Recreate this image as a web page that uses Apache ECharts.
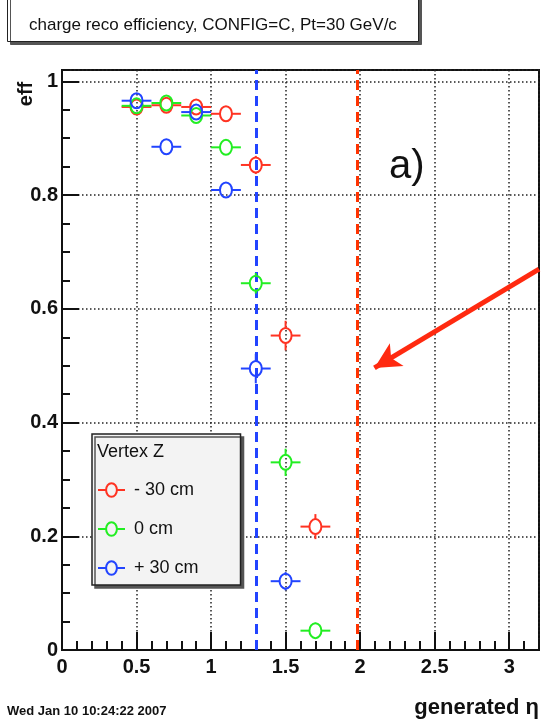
<!DOCTYPE html>
<html>
<head>
<meta charset="utf-8">
<script src="https://cdn.jsdelivr.net/npm/echarts@6/dist/echarts.min.js"></script>
<style>
  html, body { margin: 0; padding: 0; background: #fff; }
  #chart { width: 542px; height: 723px; }
</style>
</head>
<body>
<div id="chart"></div>
<script>
// data
var etaRed = [0.5, 0.7, 0.9, 1.1, 1.3, 1.5, 1.7];
var effRed = [0.955, 0.958, 0.955, 0.943, 0.853, 0.553, 0.217];
var errRed = [0.005, 0.005, 0.006, 0.007, 0.016, 0.026, 0.022];

var etaGreen = [0.5, 0.7, 0.9, 1.1, 1.3, 1.5, 1.7];
var effGreen = [0.957, 0.962, 0.940, 0.884, 0.645, 0.330, 0.034];
var errGreen = [0.005, 0.005, 0.007, 0.010, 0.018, 0.024, 0.014];

var etaBlue = [0.5, 0.7, 0.9, 1.1, 1.3, 1.5];
var effBlue = [0.966, 0.885, 0.946, 0.809, 0.495, 0.121];
var errBlue = [0.005, 0.010, 0.007, 0.014, 0.026, 0.016];

var binHalf = 0.1;           // horizontal error = half bin width
var cutBlue = 1.3;           // dashed vertical lines
var cutRed = 1.98;
var arrowFrom = [3.2, 0.67];
var arrowTo = [2.096, 0.496];

var names = ['- 30 cm', '0 cm', '+ 30 cm'];
var colRed = '#ff3322', colGreen = '#22ee22', colBlue = '#2244ff';

var font = "'Liberation Sans', Arial, Helvetica, sans-serif";

// legend marker: line with open circle
var markerIcon = 'path://M0,8 L9,8 M21,8 L30,8 M9,8 A6,7.5 0 1,1 21,8 A6,7.5 0 1,1 9,8 Z';

function pack(eta, eff, err) {
    var out = [];
    for (var i = 0; i < eta.length; i++) out.push([eta[i], eff[i], err[i]]);
    return out;
}

// point with x/y error bars and open circle marker
function renderErr(params, api) {
    var x = api.value(0), y = api.value(1), e = api.value(2);
    var c = api.coord([x, y]);
    var l = api.coord([x - binHalf, y]);
    var r = api.coord([x + binHalf, y]);
    var t = api.coord([x, y + e]);
    var b = api.coord([x, y - e]);
    var rx = 6, ry = 7.5;
    var st = { stroke: api.visual('color'), lineWidth: 2, fill: null };
    var kids = [
        { type: 'line', shape: { x1: l[0], y1: c[1], x2: c[0] - rx, y2: c[1] }, style: st },
        { type: 'line', shape: { x1: c[0] + rx, y1: c[1], x2: r[0], y2: c[1] }, style: st },
        { type: 'ellipse', shape: { cx: c[0], cy: c[1], rx: rx, ry: ry }, style: st }
    ];
    if (c[1] - t[1] > ry) {
        kids.push({ type: 'line', shape: { x1: c[0], y1: t[1], x2: c[0], y2: c[1] - ry }, style: st });
        kids.push({ type: 'line', shape: { x1: c[0], y1: c[1] + ry, x2: c[0], y2: b[1] }, style: st });
    }
    return { type: 'group', children: kids };
}

function errSeries(name, color, eta, eff, err) {
    return {
        name: name,
        type: 'custom',
        xAxisIndex: 0,
        yAxisIndex: 0,
        itemStyle: { color: color },
        renderItem: renderErr,
        data: pack(eta, eff, err),
        z: 5
    };
}

function legendItem(name, color) {
    return {
        name: name,
        icon: markerIcon,
        itemStyle: { color: 'rgba(0,0,0,0)', borderColor: color, borderWidth: 2 }
    };
}

var chart = echarts.init(document.getElementById('chart'));

var option = {
    animation: false,
    backgroundColor: '#fff',
    title: {
        text: 'charge reco efficiency, CONFIG=C, Pt=30 GeV/c',
        left: 7,
        top: -20,
        padding: [33, 22, 5, 22],
        backgroundColor: '#fff',
        borderColor: '#222',
        borderWidth: 1,
        shadowColor: '#555',
        shadowBlur: 0,
        shadowOffsetX: 3,
        shadowOffsetY: 3,
        textStyle: { fontFamily: font, fontSize: 17, fontWeight: 'normal', color: '#111', lineHeight: 24 }
    },
    legend: {
        data: [legendItem(names[0], colRed), legendItem(names[1], colGreen), legendItem(names[2], colBlue)],
        orient: 'vertical',
        left: 92,
        top: 434,
        padding: [47, 42, 8, 5],
        itemGap: 21,
        itemWidth: 27,
        itemHeight: 16,
        backgroundColor: '#f3f3f3',
        borderColor: '#222',
        borderWidth: 1.5,
        shadowColor: '#555',
        shadowBlur: 0,
        shadowOffsetX: 3,
        shadowOffsetY: 3,
        selectedMode: false,
        textStyle: { fontFamily: font, fontSize: 18, color: '#111', padding: [0, 0, 0, 4] }
    },
    grid: {
        left: 62, top: 70, right: 1, bottom: 73,
        show: true,
        borderColor: '#111',
        borderWidth: 2,
        containLabel: false
    },
    xAxis: [{
        type: 'value',
        min: 0, max: 3.2, interval: 0.5,
        name: 'generated η',
        nameLocation: 'end',
        nameGap: 0,
        nameTextStyle: { fontFamily: font, fontSize: 22, fontWeight: 'bold', color: '#111',
            align: 'right', verticalAlign: 'top', padding: [47, 0, 0, 0] },
        axisLine: { lineStyle: { color: '#111', width: 2 } },
        axisTick: { inside: true, length: 18, lineStyle: { color: '#111', width: 2 } },
        axisLabel: { showMaxLabel: false, margin: 7, fontFamily: font, fontSize: 20, fontWeight: 'bold', color: '#111' },
        splitLine: { show: true, lineStyle: { color: '#222', width: 1.5, type: [1.5, 2.5] } }
    }, {
        // minor ticks only
        type: 'value',
        position: 'bottom',
        min: 0, max: 3.2, interval: 0.1,
        axisLine: { show: false },
        axisTick: { inside: true, length: 9, lineStyle: { color: '#111', width: 2 } },
        axisLabel: { show: false },
        splitLine: { show: false }
    }],
    yAxis: [{
        type: 'value',
        min: 0, max: 1.02, interval: 0.2,
        axisLine: { show: true, lineStyle: { color: '#111', width: 2 } },
        axisTick: { show: true, inside: true, length: 17, lineStyle: { color: '#111', width: 2 } },
        axisLabel: { showMaxLabel: false, margin: 4, fontFamily: font, fontSize: 20, fontWeight: 'bold', color: '#111',
            formatter: function (v) { return v === 0 ? '0' : String(+v.toFixed(1)); } },
        splitLine: { show: true, lineStyle: { color: '#222', width: 1.5, type: [1.5, 2.5] } }
    }, {
        type: 'value',
        position: 'left',
        min: 0, max: 1.02, interval: 0.05,
        axisLine: { show: false },
        axisTick: { show: true, inside: true, length: 8, lineStyle: { color: '#111', width: 2 } },
        axisLabel: { show: false },
        splitLine: { show: false }
    }],
    graphic: [
        { type: 'text', z: 100, left: 97, top: 443,
          style: { text: 'Vertex Z', fontFamily: font, fontSize: 18, fill: '#111' } },
        { type: 'text', z: 100, x: 26, y: 94, rotation: Math.PI / 2,
          style: { text: 'eff', fontFamily: font, fontSize: 20, fontWeight: 'bold', fill: '#111',
                   align: 'center', verticalAlign: 'middle' } },
        { type: 'text', z: 100, x: 389, y: 167,
          style: { text: 'a)', fontFamily: font, fontSize: 40, fill: '#111', verticalAlign: 'middle' } },
        { type: 'text', z: 100, x: 7, y: 711,
          style: { text: 'Wed Jan 10 10:24:22 2007', fontFamily: font, fontSize: 13, fontWeight: 'bold',
                   fill: '#111', verticalAlign: 'middle' } }
    ],
    series: [
        {
            name: 'cuts',
            type: 'line',
            data: [],
            silent: true,
            markLine: {
                silent: true,
                symbol: 'none',
                label: { show: false },
                data: [
                    { xAxis: cutBlue, lineStyle: { color: colBlue, width: 3, type: [10, 6] } },
                    { xAxis: cutRed, lineStyle: { color: '#ff3300', width: 3, type: [10, 6] } }
                ]
            }
        },
        errSeries(names[0], colRed, etaRed, effRed, errRed),
        errSeries(names[1], colGreen, etaGreen, effGreen, errGreen),
        errSeries(names[2], colBlue, etaBlue, effBlue, errBlue),
        {
            name: 'arrow',
            type: 'line',
            data: [],
            silent: true,
            markLine: {
                silent: true,
                symbol: ['none', 'arrow'],
                symbolSize: [20, 26],
                label: { show: false },
                lineStyle: { color: '#ff2a10', width: 5, type: 'solid' },
                data: [[{ coord: arrowFrom }, { coord: arrowTo }]]
            }
        }
    ]
};

chart.setOption(option);
</script>
</body>
</html>
